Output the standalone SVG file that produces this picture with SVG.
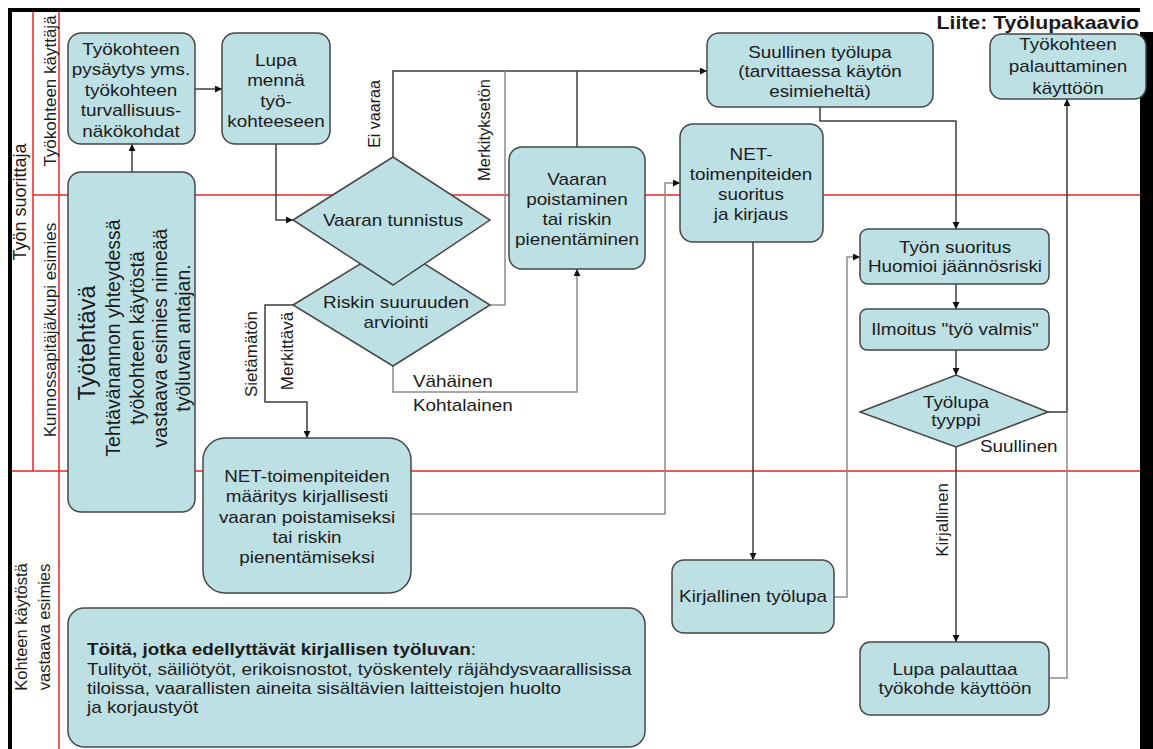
<svg xmlns="http://www.w3.org/2000/svg" width="1153" height="749" viewBox="0 0 1153 749">
  <style>
    text { font-family: "Liberation Sans", Arial, sans-serif; fill: #1b1b1b; }
    .c { font-size: 16px; text-anchor: middle; }
    .s { font-size: 16px; text-anchor: start; }
    .v { text-anchor: middle; }
    .title { font-size: 18px; font-weight: bold; text-anchor: end; }
    .node { fill: #bde0e4; stroke: #474747; stroke-width: 1.5; }
    .lane { stroke: #e3262b; stroke-width: 1.5; fill: none; }
    .dk { stroke: #3c3c3c; }
    .lt { stroke: #8c8c8c; }
  </style>
  <defs>
    <marker id="ah" viewBox="0 0 10 10" refX="10" refY="5" markerWidth="8" markerHeight="7" markerUnits="userSpaceOnUse" orient="auto">
      <path d="M0,0 L10,5 L0,10 z" fill="#111"/>
    </marker>
  </defs>

  <rect x="0" y="0" width="1153" height="749" fill="#fff"/>

  <!-- frame -->
  <g id="frame">
    <path d="M8,10 H1140" stroke="#000" stroke-width="4"/>
    <path d="M10,8 V749" stroke="#000" stroke-width="4"/>
    <rect x="1140" y="32" width="13" height="717" fill="#000"/>
    <text class="title" transform="translate(1139 29) scale(1.18 1)">Liite: Työlupakaavio</text>
  </g>

  <!-- swimlane dividers -->
  <g id="lanes">
    <path class="lane" d="M33,12 V471"/>
    <path class="lane" d="M59,12 V749"/>
    <path class="lane" d="M33,195 H1140"/>
    <path class="lane" d="M12,471 H1140"/>
    <text class="v" font-size="18" transform="translate(26 202) rotate(-90)">Työn suorittaja</text>
    <text class="v" font-size="17" transform="translate(56 91) rotate(-90)">Työkohteen käyttäjä</text>
    <text class="v" font-size="17" transform="translate(56 330) rotate(-90)">Kunnossapitäjä/kupi esimies</text>
    <text class="v" font-size="16.5" transform="translate(27 627) rotate(-90)">Kohteen käytöstä</text>
    <text class="v" font-size="16.5" transform="translate(50 627) rotate(-90)">vastaava esimies</text>
  </g>

  <!-- connectors -->
  <g id="connectors" fill="none" stroke-width="1.5">
    <path class="dk" d="M195,89 H222" marker-end="url(#ah)"/>
    <path class="dk" d="M132,172 V144" marker-end="url(#ah)"/>
    <path class="dk" d="M276,144 V220 H293" marker-end="url(#ah)"/>
    <path class="dk" d="M393,157 V71 H707" marker-end="url(#ah)"/>
    <path class="lt" d="M490,305 H505 V71"/>
    <path class="dk" d="M577,147 V71"/>
    <path class="dk" d="M293,305 H265 V402 H307 V438" marker-end="url(#ah)"/>
    <path class="lt" d="M393,366 V392 H577 V269" marker-end="url(#ah)"/>
    <path class="lt" d="M411,514 H665 V183 H680" marker-end="url(#ah)"/>
    <path class="dk" d="M753,242 V560" marker-end="url(#ah)"/>
    <path class="dk" d="M820,107 V121 H956 V229" marker-end="url(#ah)"/>
    <path class="lt" d="M834,597 H847 V257 H860" marker-end="url(#ah)"/>
    <path class="dk" d="M956,284 V309" marker-end="url(#ah)"/>
    <path class="dk" d="M956,350 V375" marker-end="url(#ah)"/>
    <path class="dk" d="M1048,412 H1067 V99" marker-end="url(#ah)"/>
    <path class="lt" d="M1049,678 H1067 V412"/>
    <path class="dk" d="M956,447 V642" marker-end="url(#ah)"/>

    <text class="v" font-size="16" transform="translate(380 114) rotate(-90)">Ei vaaraa</text>
    <text class="v" font-size="16.5" transform="translate(490 130) rotate(-90)">Merkityksetön</text>
    <text class="v" font-size="17" transform="translate(257 354) rotate(-90)">Sietämätön</text>
    <text class="v" font-size="17" transform="translate(293 351) rotate(-90)">Merkittävä</text>
    <text class="v" font-size="17" transform="translate(948 520) rotate(-90)">Kirjallinen</text>
    <g transform="translate(413 0) scale(1.18 1)">
      <text class="s" y="387">Vähäinen</text>
      <text class="s" y="411">Kohtalainen</text>
    </g>
    <text class="s" transform="translate(980 452) scale(1.18 1)">Suullinen</text>
  </g>

  <!-- nodes -->
  <g id="n-pysaytys">
    <rect class="node" x="68" y="33" width="127" height="111" rx="13"/>
    <g transform="translate(131 0) scale(1.18 1)">
      <text class="c" y="55">Työkohteen</text>
      <text class="c" y="75.5">pysäytys yms.</text>
      <text class="c" y="96">työkohteen</text>
      <text class="c" y="116.5">turvallisuus-</text>
      <text class="c" y="137">näkökohdat</text>
    </g>
  </g>

  <g id="n-lupa">
    <rect class="node" x="222" y="33" width="108" height="111" rx="13"/>
    <g transform="translate(276 0) scale(1.18 1)">
      <text class="c" y="66.5">Lupa</text>
      <text class="c" y="86.5">mennä</text>
      <text class="c" y="107">työ-</text>
      <text class="c" y="127">kohteeseen</text>
    </g>
  </g>

  <g id="n-tyotehtava">
    <rect class="node" x="68" y="172" width="127" height="340" rx="13"/>
    <text class="v" font-size="23.5" transform="translate(95 343) rotate(-90)">Työtehtävä</text>
    <text class="v" font-size="19.5" transform="translate(120 338) rotate(-90)">Tehtävänannon yhteydessä</text>
    <text class="v" font-size="19.5" transform="translate(143.5 338) rotate(-90)">työkohteen käytöstä</text>
    <text class="v" font-size="19.5" transform="translate(166.5 338) rotate(-90)">vastaava esimies nimeää</text>
    <text class="v" font-size="19.5" transform="translate(189.5 338) rotate(-90)">työluvan antajan.</text>
  </g>

  <g id="n-riski">
    <polygon class="node" points="293,305 393,244 490,305 393,366"/>
    <g transform="translate(396 0) scale(1.18 1)">
      <text class="c" y="308">Riskin suuruuden</text>
      <text class="c" y="328">arviointi</text>
    </g>
  </g>

  <g id="n-tunnistus">
    <polygon class="node" points="293,220 393,157 490,220 393,285"/>
    <text class="c" transform="translate(393 226) scale(1.18 1)">Vaaran tunnistus</text>
  </g>

  <g id="n-poistaminen">
    <rect class="node" x="509" y="147" width="136" height="122" rx="13"/>
    <g transform="translate(577 0) scale(1.18 1)">
      <text class="c" y="185">Vaaran</text>
      <text class="c" y="205">poistaminen</text>
      <text class="c" y="225">tai riskin</text>
      <text class="c" y="245">pienentäminen</text>
    </g>
  </g>

  <g id="n-suullinen">
    <rect class="node" x="707" y="33" width="226" height="74" rx="12"/>
    <g transform="translate(820 0) scale(1.18 1)">
      <text class="c" y="58">Suullinen työlupa</text>
      <text class="c" y="77.5">(tarvittaessa käytön</text>
      <text class="c" y="97">esimieheltä)</text>
    </g>
  </g>

  <g id="n-net-suoritus">
    <rect class="node" x="680" y="124" width="143" height="118" rx="13"/>
    <g transform="translate(751 0) scale(1.18 1)">
      <text class="c" y="160">NET-</text>
      <text class="c" y="180">toimenpiteiden</text>
      <text class="c" y="200">suoritus</text>
      <text class="c" y="220">ja kirjaus</text>
    </g>
  </g>

  <g id="n-palauttaminen">
    <rect class="node" x="990" y="34" width="156" height="65" rx="12"/>
    <g transform="translate(1068 0) scale(1.18 1)">
      <text class="c" y="50">Työkohteen</text>
      <text class="c" y="72">palauttaminen</text>
      <text class="c" y="94">käyttöön</text>
    </g>
  </g>

  <g id="n-tyon-suoritus">
    <rect class="node" x="860" y="229" width="189" height="55" rx="8"/>
    <g transform="translate(955 0) scale(1.18 1)">
      <text class="c" y="253">Työn suoritus</text>
      <text class="c" y="272">Huomioi jäännösriski</text>
    </g>
  </g>

  <g id="n-ilmoitus">
    <rect class="node" x="860" y="309" width="189" height="41" rx="7"/>
    <text class="c" transform="translate(955 335) scale(1.18 1)">Ilmoitus "työ valmis"</text>
  </g>

  <g id="n-tyyppi">
    <polygon class="node" points="860,412 956,375 1048,412 956,447"/>
    <g transform="translate(956 0) scale(1.18 1)">
      <text class="c" y="408">Työlupa</text>
      <text class="c" y="426">tyyppi</text>
    </g>
  </g>

  <g id="n-net-maaritys">
    <rect class="node" x="203" y="438" width="208" height="155" rx="22"/>
    <g transform="translate(307 0) scale(1.18 1)">
      <text class="c" y="482">NET-toimenpiteiden</text>
      <text class="c" y="502.5">määritys kirjallisesti</text>
      <text class="c" y="523">vaaran poistamiseksi</text>
      <text class="c" y="543">tai riskin</text>
      <text class="c" y="563.5">pienentämiseksi</text>
    </g>
  </g>

  <g id="n-kirjallinen">
    <rect class="node" x="672" y="560" width="162" height="73" rx="12"/>
    <text class="c" transform="translate(753 602) scale(1.18 1)">Kirjallinen työlupa</text>
  </g>

  <g id="n-lupa-palauttaa">
    <rect class="node" x="860" y="642" width="189" height="73" rx="10"/>
    <g transform="translate(955 0) scale(1.18 1)">
      <text class="c" y="675">Lupa palauttaa</text>
      <text class="c" y="694">työkohde käyttöön</text>
    </g>
  </g>

  <g id="n-kirjalliset-tyot">
    <rect class="node" x="68" y="608" width="577" height="139" rx="16"/>
    <g transform="translate(87 0) scale(1.18 1)">
      <text class="s" y="655" font-size="18.5"><tspan font-weight="bold">Töitä, jotka edellyttävät kirjallisen työluvan</tspan>:</text>
      <text class="s" y="675">Tulityöt, säiliötyöt, erikoisnostot, työskentely räjähdysvaarallisissa</text>
      <text class="s" y="694">tiloissa, vaarallisten aineita sisältävien laitteistojen huolto</text>
      <text class="s" y="713">ja korjaustyöt</text>
    </g>
  </g>
</svg>
